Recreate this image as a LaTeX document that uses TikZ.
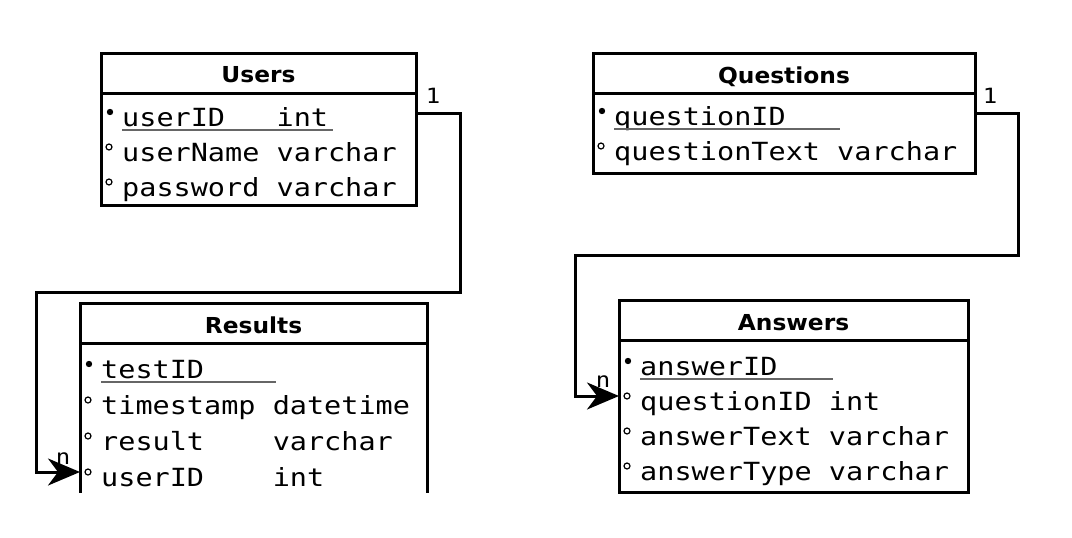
\documentclass[tikz,border=0pt]{standalone}
\usepackage{fontspec}
\usetikzlibrary{arrows.meta}
\newfontfamily\rowfont[FakeStretch=1.14]{DejaVu Sans Mono}
\newfontfamily\headfont[FakeStretch=1.06]{DejaVu Sans}

\tikzset{
  table/.style={draw, line width=3pt, anchor=north west, inner sep=0pt, outer sep=0pt},
  title/.style={anchor=base, inner sep=0pt, font=\headfont\bfseries\fontsize{22}{26}\selectfont},
  row/.style={anchor=base west, inner sep=0pt, font=\rowfont\fontsize{25}{30}\selectfont},
  card/.style={inner sep=0pt, font=\rowfont\fontsize{21}{24}\selectfont},
  pkline/.style={line width=2pt, black!60},
  link/.style={line width=3pt, -{Stealth[length=32pt, width=27pt, inset=10pt]}},
}

\begin{document}
\begin{tikzpicture}[x=1pt, y=1pt, yscale=-1]
    \useasboundingbox (0,0) rectangle (1072,538);

    % Define the positions of the tables
    \coordinate (usersPos) at (101,53);
    \coordinate (resultsPos) at (80,303);
    \coordinate (questionsPos) at (593,53);
    \coordinate (answersPos) at (619,300);

    % Draw the tables
    \node[table, minimum width=315pt, minimum height=152pt] (users) at (usersPos) {};
    \begin{scope}
        \clip (0,0) rectangle (1072,492); % bottom of Results is cut off
        \node[table, minimum width=347pt, minimum height=220pt] (results) at (resultsPos) {};
    \end{scope}
    \node[table, minimum width=382pt, minimum height=120pt] (questions) at (questionsPos) {};
    \node[table, minimum width=349pt, minimum height=192pt] (answers) at (answersPos) {};

    % Header lines and titles
    \foreach \t in {users,results,questions,answers} {
        \draw[line width=3pt] ([yshift=40pt]\t.north west) -- ([yshift=40pt]\t.north east);
    }
    \node[title] (usersTitle) at ([yshift=29pt]users.north) {Users};
    \node[title] (resultsTitle) at ([yshift=30pt]results.north) {Results};
    \node[title] (questionsTitle) at ([yshift=30pt]questions.north) {Questions};
    \node[title] (answersTitle) at ([yshift=30pt]answers.north) {Answers};

    % Draw the rows
    \node[row] (uKey) at (122,126) {userID~~~int};
    \node[row] (uName) at (122,161) {userName varchar};
    \node[row] (uPass) at (122,196) {password varchar};

    \node[row] (rKey) at (101,378) {testID};
    \node[row] (rTime) at (101,414) {timestamp datetime};
    \node[row] (rResult) at (101,450) {result~~~~varchar};
    \node[row] (rUser) at (101,486) {userID~~~~int};

    \node[row] (qKey) at (614,125) {questionID};
    \node[row] (qText) at (614,160) {questionText varchar};

    \node[row] (aKey) at (640,375) {answerID};
    \node[row] (aQuestion) at (640,410) {questionID int};
    \node[row] (aText) at (640,445) {answerText varchar};
    \node[row] (aType) at (640,480) {answerType varchar};

    % Key underlines and bullets
    \draw[pkline] ([yshift=4pt]uKey.base west) -- ++(211,0);
    \draw[pkline] ([yshift=4pt]rKey.base west) -- ++(175,0);
    \draw[pkline] ([yshift=4pt]qKey.base west) -- ++(226,0);
    \draw[pkline] ([yshift=4pt]aKey.base west) -- ++(193,0);
    \foreach \k in {uKey,rKey,qKey,aKey} {
        \fill ([xshift=-12pt,yshift=-14pt]\k.base west) circle (3.2pt);
    }
    \foreach \r in {uName,uPass,rTime,rResult,rUser,qText,aQuestion,aText,aType} {
        \draw[line width=1.2pt] ([xshift=-13pt,yshift=-14pt]\r.base west) circle (3pt);
    }

    % Draw the relations
    \coordinate (uLink) at ([yshift=-13pt]uKey.base);
    \coordinate (rLink) at ([yshift=-14pt]rUser.base);
    \coordinate (qLink) at ([yshift=-12pt]qKey.base);
    \coordinate (aLink) at ([yshift=-14pt]aQuestion.base);
    \coordinate (uBend) at (460,292);
    \coordinate (rBend) at (36,292);
    \coordinate (qBend) at (1018,255);
    \coordinate (aBend) at (575,255);

    \node[card] (uOne) at (433,96) {1};
    \node[card] (rMany) at (63,459) {n};
    \node[card] (qOne) at (990,96) {1};
    \node[card] (aMany) at (603,382) {n};

    \draw[link] (users.east |- uLink) -| (uBend) -- (rBend) |- (results.west |- rLink);
    \draw[link] (questions.east |- qLink) -| (qBend) -- (aBend) |- (answers.west |- aLink);
\end{tikzpicture}
\end{document}
